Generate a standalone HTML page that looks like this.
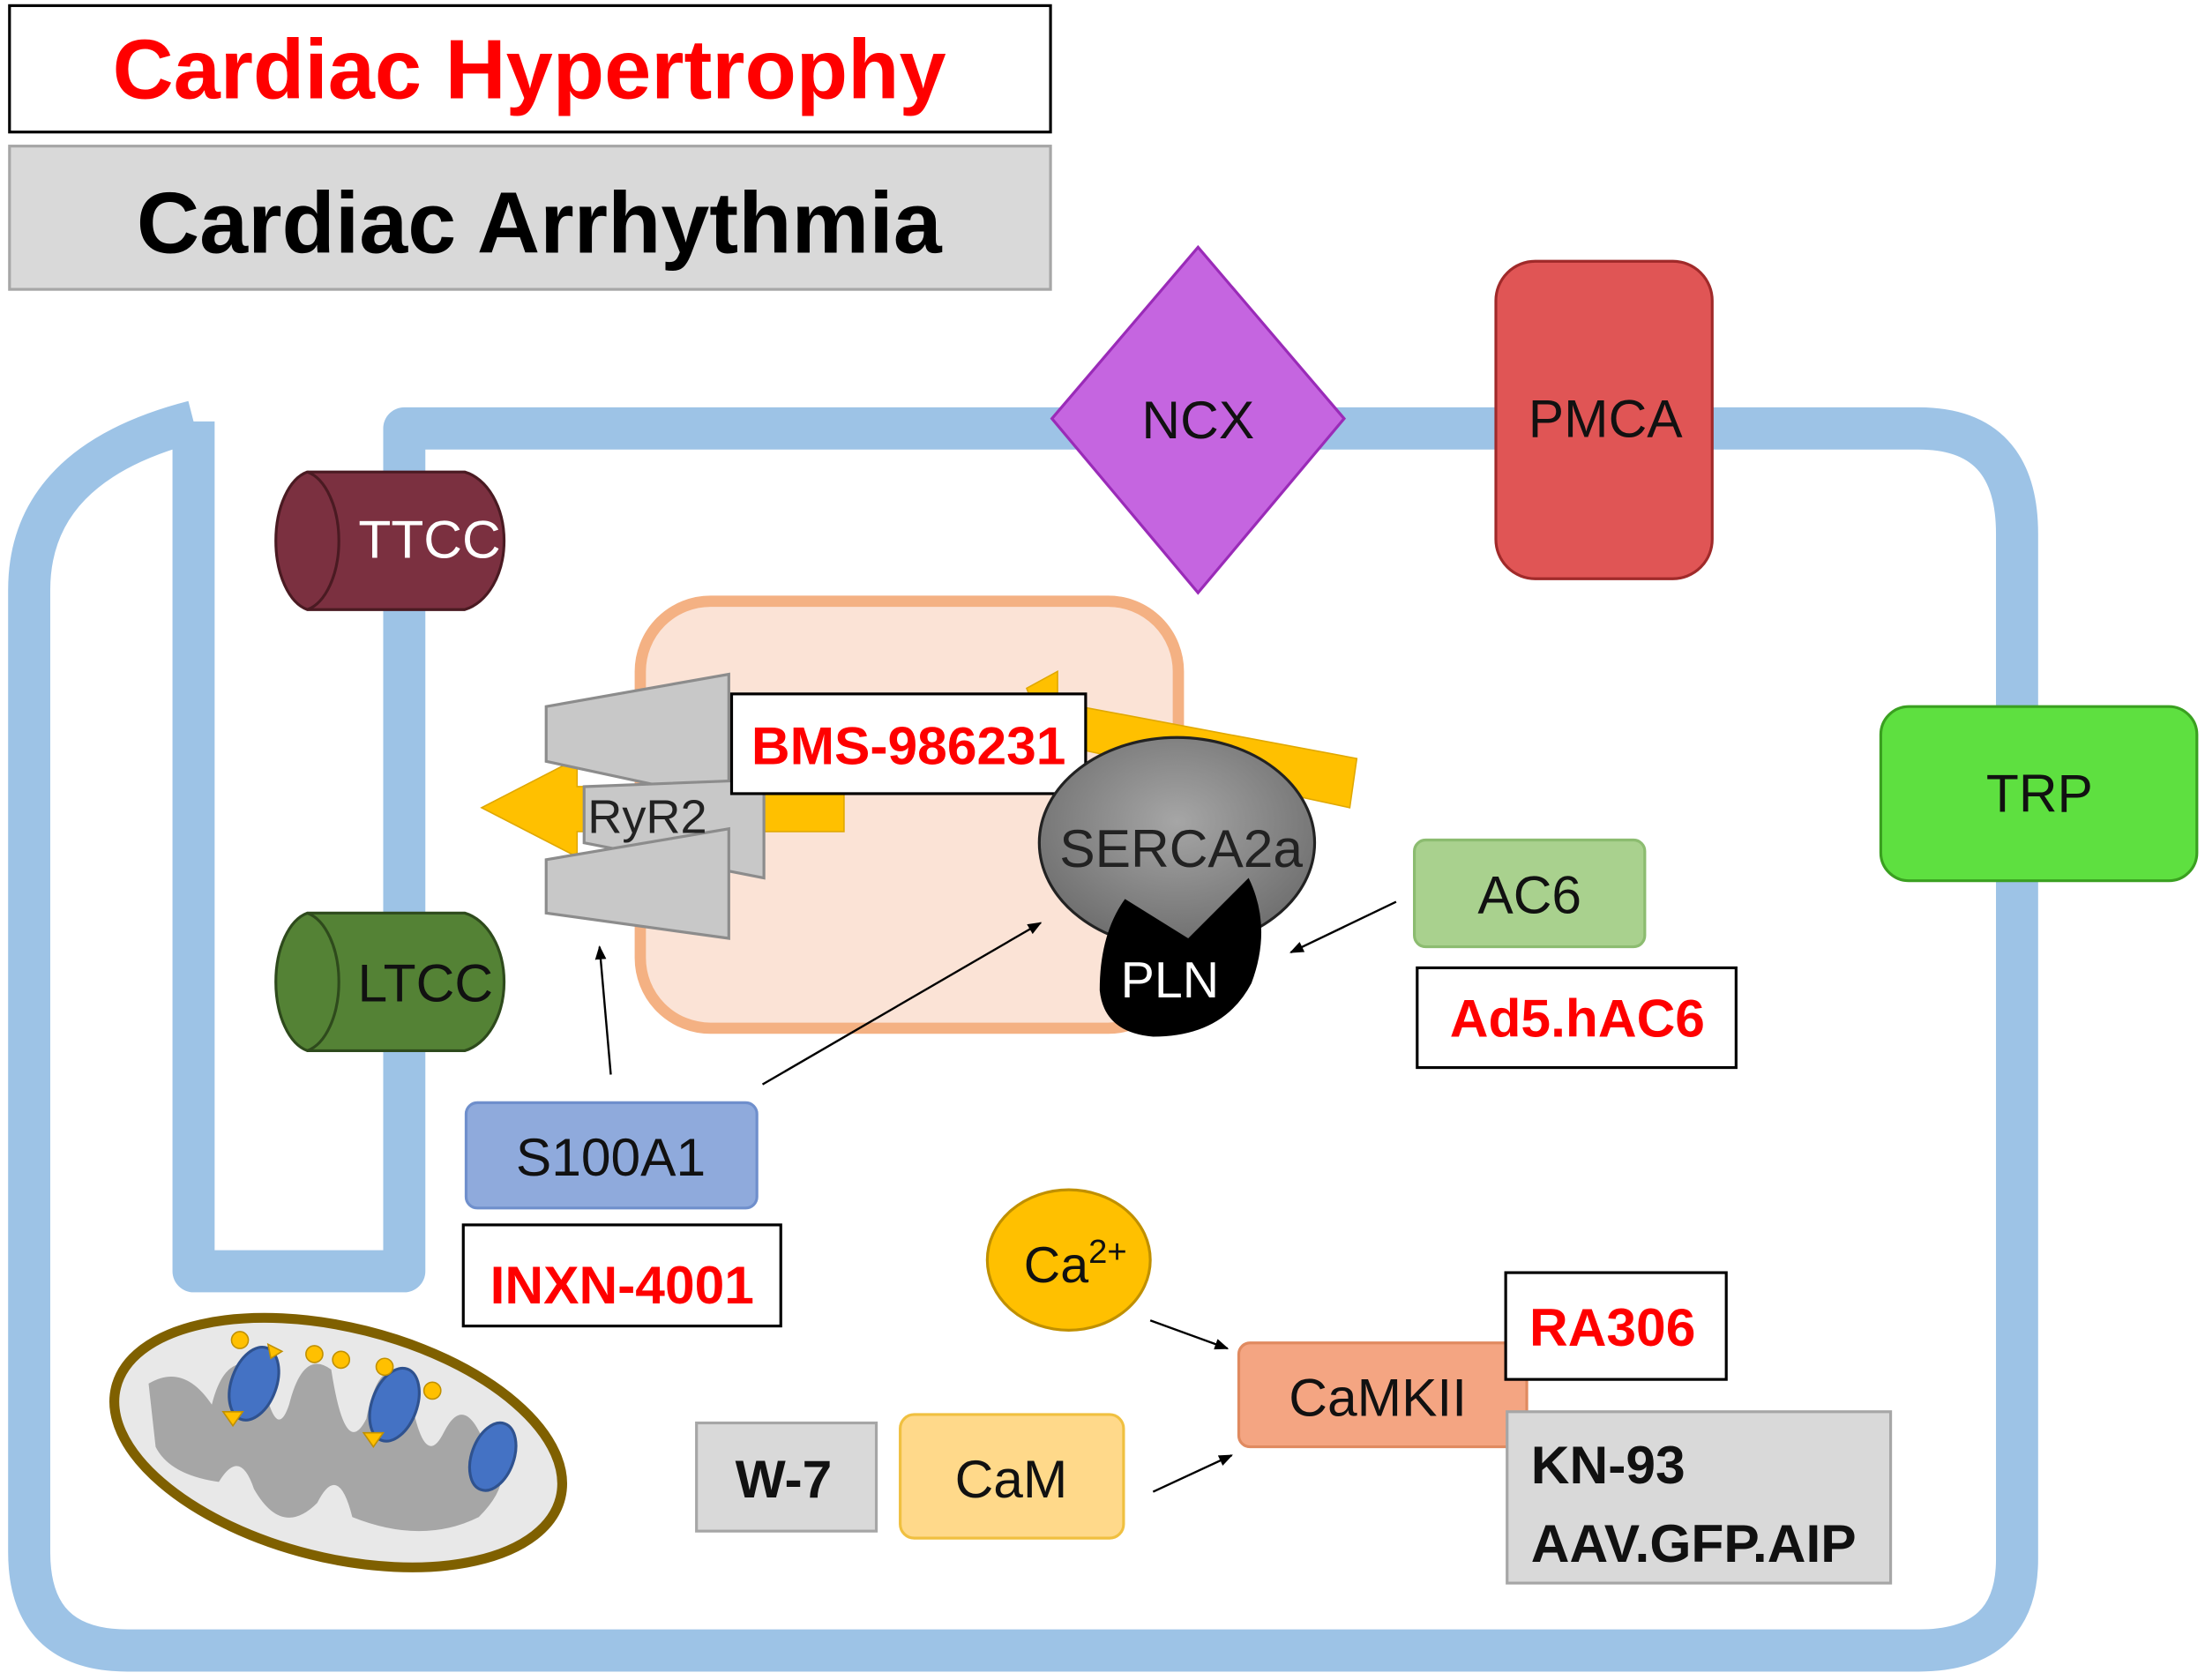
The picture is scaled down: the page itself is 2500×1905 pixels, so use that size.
<!DOCTYPE html>
<html><head><meta charset="utf-8"><style>html,body{margin:0;padding:0;background:#fff}svg{display:block}text{font-family:"Liberation Sans",sans-serif}</style></head><body>
<svg width="2500" height="1905" viewBox="0 0 1568 1196" xmlns="http://www.w3.org/2000/svg">
<defs>
<radialGradient id="g1" cx="50%" cy="40%" r="60%"><stop offset="0" stop-color="#a6a6a6"/><stop offset="1" stop-color="#6e6e6e"/></radialGradient>
<marker id="ar" markerWidth="10" markerHeight="10" refX="9" refY="5" orient="auto" markerUnits="userSpaceOnUse"><path d="M0,1 L10,5 L0,9 z" fill="#000"/></marker>
</defs>
<rect x="6" y="4" width="741" height="90" fill="#fff" stroke="#000" stroke-width="2"/>
<text x="376" y="70" text-anchor="middle" font-size="60" font-weight="bold" fill="#ff0000">Cardiac Hypertrophy</text>
<rect x="6" y="104" width="741" height="102" fill="#d9d9d9" stroke="#a6a6a6" stroke-width="2"/>
<text x="383" y="180" text-anchor="middle" font-size="62" font-weight="bold" fill="#000">Cardiac Arrhythmia</text>
<!-- membrane -->
<path d="M137,300 L137,905 L287,905 L287,305 L1365,305 Q1435,305 1435,380 L1435,1110 Q1435,1175 1365,1175 L90,1175 Q20,1175 20,1105 L20,420 Q20,330 137,300" fill="none" stroke="#9dc3e6" stroke-width="30" stroke-linejoin="round"/>
<!-- SR -->
<rect x="455" y="428" width="383" height="304" rx="50" fill="#fbe3d6" stroke="#f4b183" stroke-width="8"/>
<!-- yellow arrows -->
<polygon points="730,490 752,478 752,500 965,540 960,575 752,530 752,545" fill="#ffc000" stroke="#e0a800" stroke-width="1"/>
<polygon points="600,560 600,592 410,592 410,610 342,575 410,540 410,560" fill="#ffc000" stroke="#e0a800" stroke-width="1"/>
<!-- RyR2 -->
<polygon points="388,503 518,480 518,570 388,542" fill="#c8c8c8" stroke="#8c8c8c" stroke-width="2"/>
<polygon points="415,560 543,555 543,625 415,600" fill="#c8c8c8" stroke="#8c8c8c" stroke-width="2"/>
<polygon points="388,612 518,590 518,668 388,650" fill="#c8c8c8" stroke="#8c8c8c" stroke-width="2"/>
<text x="460" y="593" text-anchor="middle" font-size="34" fill="#222">RyR2</text>
<rect x="520" y="494" width="252" height="71" fill="#fff" stroke="#000" stroke-width="2"/>
<text x="646" y="544" text-anchor="middle" font-size="38" font-weight="bold" fill="#ff0000">BMS-986231</text>
<!-- SERCA -->
<ellipse cx="837" cy="600" rx="98" ry="75" fill="url(#g1)" stroke="#222" stroke-width="2"/>
<text x="840" y="617" text-anchor="middle" font-size="38" fill="#222">SERCA2a</text>
<path d="M800,640 L845,668 L888,625 Q905,660 890,700 Q870,738 820,738 Q785,735 782,705 Q782,665 800,640 z" fill="#000"/>
<text x="832" y="710" text-anchor="middle" font-size="36" fill="#fff">PLN</text>
<!-- TTCC / LTCC -->
<path d="M218,336 L330,336 A35,50 0 0 1 330,434 L218,434 A28,50 0 0 1 218,336 z" fill="#7b3040" stroke="#4a1a22" stroke-width="2"/>
<path d="M218,336 A28,50 0 0 1 218,434" fill="none" stroke="#4a1a22" stroke-width="2"/>
<text x="305" y="397" text-anchor="middle" font-size="38" fill="#fff">TTCC</text>
<path d="M218,650 L330,650 A35,50 0 0 1 330,748 L218,748 A28,50 0 0 1 218,650 z" fill="#548235" stroke="#2e4a1c" stroke-width="2"/>
<path d="M218,650 A28,50 0 0 1 218,748" fill="none" stroke="#2e4a1c" stroke-width="2"/>
<text x="302" y="713" text-anchor="middle" font-size="38" fill="#111">LTCC</text>
<!-- NCX PMCA TRP -->
<polygon points="852,176 956,298 852,422 748,298" fill="#c565e0" stroke="#9a2bb8" stroke-width="2"/>
<text x="852" y="312" text-anchor="middle" font-size="38" fill="#111">NCX</text>
<rect x="1064" y="186" width="154" height="226" rx="28" fill="#e05555" stroke="#a02a2a" stroke-width="2"/>
<text x="1142" y="311" text-anchor="middle" font-size="38" fill="#111">PMCA</text>
<rect x="1338" y="503" width="225" height="124" rx="20" fill="#5ee040" stroke="#3aa020" stroke-width="2"/>
<text x="1451" y="578" text-anchor="middle" font-size="38" fill="#111">TRP</text>
<!-- AC6 -->
<rect x="1006" y="598" width="164" height="76" rx="8" fill="#a9d18e" stroke="#8cbc70" stroke-width="2"/>
<text x="1088" y="650" text-anchor="middle" font-size="38" fill="#111">AC6</text>
<rect x="1008" y="689" width="227" height="71" fill="#fff" stroke="#000" stroke-width="2"/>
<text x="1122" y="738" text-anchor="middle" font-size="38" font-weight="bold" fill="#ff0000">Ad5.hAC6</text>
<line x1="993" y1="642" x2="918" y2="678" stroke="#000" stroke-width="1.5" marker-end="url(#ar)"/>
<!-- S100A1 -->
<rect x="331" y="785" width="207" height="75" rx="8" fill="#8faadc" stroke="#6f8fcc" stroke-width="2"/>
<text x="434" y="837" text-anchor="middle" font-size="38" fill="#111">S100A1</text>
<rect x="329" y="872" width="226" height="72" fill="#fff" stroke="#000" stroke-width="2"/>
<text x="442" y="928" text-anchor="middle" font-size="38" font-weight="bold" fill="#ff0000">INXN-4001</text>
<line x1="434" y1="765" x2="426" y2="674" stroke="#000" stroke-width="1.5" marker-end="url(#ar)"/>
<line x1="542" y1="772" x2="740" y2="657" stroke="#000" stroke-width="1.5" marker-end="url(#ar)"/>
<!-- Ca -->
<ellipse cx="760" cy="897" rx="58" ry="50" fill="#ffc000" stroke="#c09000" stroke-width="2"/>
<text x="728" y="913" font-size="36" fill="#111">Ca<tspan font-size="24" dy="-14">2+</tspan></text>
<line x1="818" y1="940" x2="873" y2="960" stroke="#000" stroke-width="1.5" marker-end="url(#ar)"/>
<rect x="495" y="1013" width="128" height="77" fill="#d9d9d9" stroke="#a6a6a6" stroke-width="2"/>
<text x="557" y="1066" text-anchor="middle" font-size="38" font-weight="bold" fill="#111">W-7</text>
<rect x="640" y="1007" width="159" height="88" rx="10" fill="#ffd98a" stroke="#f0c040" stroke-width="2"/>
<text x="719" y="1066" text-anchor="middle" font-size="38" fill="#111">CaM</text>
<line x1="820" y1="1062" x2="876" y2="1036" stroke="#000" stroke-width="1.5" marker-end="url(#ar)"/>
<rect x="881" y="956" width="205" height="74" rx="8" fill="#f4a582" stroke="#e08a60" stroke-width="2"/>
<text x="980" y="1008" text-anchor="middle" font-size="38" fill="#111">CaMKII</text>
<rect x="1071" y="906" width="157" height="76" fill="#fff" stroke="#000" stroke-width="2"/>
<text x="1147" y="958" text-anchor="middle" font-size="38" font-weight="bold" fill="#ff0000">RA306</text>
<rect x="1072" y="1005" width="273" height="122" fill="#d9d9d9" stroke="#a6a6a6" stroke-width="2"/>
<text x="1089" y="1056" font-size="38" font-weight="bold" fill="#111">KN-93</text>
<text x="1089" y="1112" font-size="38" font-weight="bold" fill="#111">AAV.GFP.AIP</text>
<!-- mitochondrion -->
<ellipse cx="240" cy="1027" rx="163" ry="82" transform="rotate(14 240 1027)" fill="#e8e8e8" stroke="#7f6000" stroke-width="7"/>
<path d="M105,985 Q130,970 150,1000 Q160,960 185,975 Q195,1030 205,1000 Q215,960 235,975 Q245,1040 260,1010 Q270,960 290,985 Q300,1050 315,1020 Q330,990 345,1030 Q370,1050 340,1080 Q300,1100 250,1080 Q240,1040 225,1070 Q200,1095 180,1060 Q170,1030 155,1055 Q120,1050 110,1030 Z" fill="#a6a6a6"/>
<ellipse cx="180" cy="985" rx="16" ry="27" transform="rotate(20 180 985)" fill="#4472c4" stroke="#2f528f" stroke-width="2"/>
<ellipse cx="280" cy="1000" rx="16" ry="27" transform="rotate(20 280 1000)" fill="#4472c4" stroke="#2f528f" stroke-width="2"/>
<ellipse cx="350" cy="1037" rx="15" ry="25" transform="rotate(20 350 1037)" fill="#4472c4" stroke="#2f528f" stroke-width="2"/>
<g fill="#ffc000" stroke="#c09000"><circle cx="170" cy="954" r="6"/><circle cx="223" cy="964" r="6"/><circle cx="242" cy="968" r="6"/><circle cx="273" cy="973" r="6"/><circle cx="307" cy="990" r="6"/><polygon points="158,1005 172,1005 165,1015"/><polygon points="258,1020 272,1020 265,1030"/><polygon points="190,957 200,962 192,967"/></g>
</svg>
</body></html>
